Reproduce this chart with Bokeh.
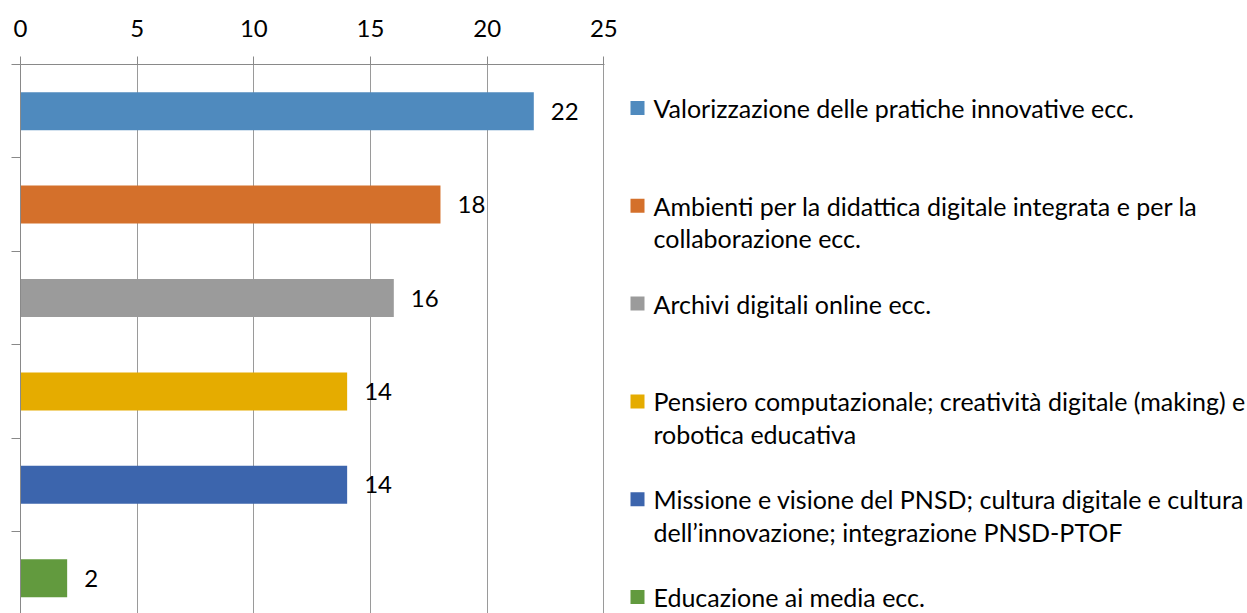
from bokeh.plotting import figure
from bokeh.layouts import row
from bokeh.models import Range1d, FixedTicker
from bokeh.core.properties import value
from bokeh.embed import file_html
from bokeh.resources import INLINE

# ---- data ----
categories = [
    "Valorizzazione delle pratiche innovative ecc.",
    "Ambienti per la didattica digitale integrata e per la collaborazione ecc.",
    "Archivi digitali online ecc.",
    "Pensiero computazionale; creatività digitale (making) e robotica educativa",
    "Missione e visione del PNSD; cultura digitale e cultura dell’innovazione; integrazione PNSD-PTOF",
    "Educazione ai media ecc.",
]
values = [22, 18, 16, 14, 14, 2]
colors = ["#4F8ABE", "#D4702B", "#9B9B9B", "#E5AC00", "#3C65AD", "#629A3E"]
x_ticks = [0, 5, 10, 15, 20, 25]
legend_lines = [
    ["Valorizzazione delle pratiche innovative ecc."],
    ["Ambienti per la didattica digitale integrata e per la", "collaborazione ecc."],
    ["Archivi digitali online ecc."],
    ["Pensiero computazionale; creatività digitale (making) e", "robotica educativa"],
    ["Missione e visione del PNSD; cultura digitale e cultura", "dell’innovazione; integrazione PNSD-PTOF"],
    ["Educazione ai media ecc."],
]

FONT = "Lato"
FS = "24px"
LFS = "25px"
AXIS_COL = "#898989"

n = len(categories)
ys = [i + 0.5 for i in range(n)]

# ---- main plot ----
p = figure(width=620, height=613,
           x_range=Range1d(0, 25.03), y_range=Range1d(549 / 93.4, 0),
           x_axis_location="above",
           output_backend="svg", toolbar_location=None,
           min_border_left=20, min_border_right=16,
           min_border_top=64, min_border_bottom=0)
p.outline_line_color = None
p.background_fill_color = "white"
p.border_fill_color = "white"

p.hbar(y=ys, left=0, right=values, height=0.407,
       fill_color=colors, line_color=None)

p.text(x=values, y=ys, text=[str(v) for v in values],
       x_offset=17, text_baseline="middle", text_align="left",
       text_font=value(FONT), text_font_size=FS, text_color="black")

xa = p.xaxis[0]
xa.ticker = FixedTicker(ticks=x_ticks)
xa.major_tick_out = 8
xa.major_tick_in = 0
xa.minor_tick_out = 0
xa.minor_tick_in = 0
xa.axis_line_color = AXIS_COL
xa.major_tick_line_color = AXIS_COL
xa.major_label_text_font = FONT
xa.major_label_text_font_size = FS
xa.major_label_text_color = "black"
xa.major_label_standoff = 20

ya = p.yaxis[0]
ya.ticker = FixedTicker(ticks=list(range(n + 1)))
ya.major_tick_out = 9
ya.major_tick_in = 0
ya.minor_tick_out = 0
ya.minor_tick_in = 0
ya.axis_line_color = AXIS_COL
ya.major_tick_line_color = AXIS_COL
ya.major_label_overrides = {i: "" for i in range(n + 1)}
ya.major_label_standoff = 0

p.xgrid.ticker = FixedTicker(ticks=x_ticks)
p.xgrid.grid_line_color = "#9A9A9A"
p.xgrid.grid_line_width = 1
p.ygrid.visible = False

# ---- legend panel (frame is aligned with the main frame: page y 64..613) ----
q = figure(width=627, height=613,
           x_range=Range1d(620, 1247), y_range=Range1d(613, 64),
           output_backend="svg", toolbar_location=None,
           min_border_left=0, min_border_right=0,
           min_border_top=64, min_border_bottom=0)
q.outline_line_color = None
q.axis.visible = False
q.grid.visible = False

leg_top = 107.5
leg_step = 97.8
line_step = 32.5
mx, ms, tx = 637, 14, 653
for i, lines in enumerate(legend_lines):
    yc = leg_top + i * leg_step
    q.rect(x=[mx], y=[yc], width=ms, height=ms, fill_color=colors[i], line_color=None)
    q.text(x=[tx] * len(lines), y=[yc + j * line_step for j in range(len(lines))],
           text=lines, text_baseline="middle", text_align="left",
           text_font=value(FONT), text_font_size=LFS, text_color="black")

layout = row(p, q, spacing=0)
open("out.html", "w").write(file_html(layout, INLINE))
